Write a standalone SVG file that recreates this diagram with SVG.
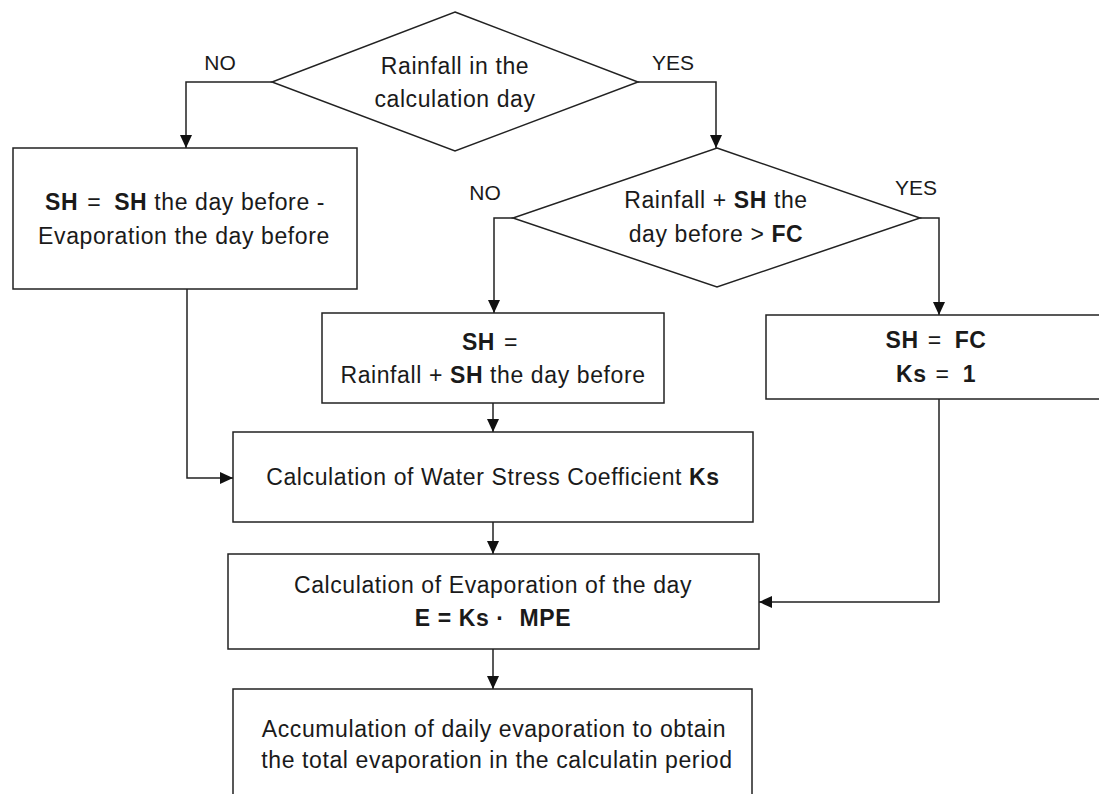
<svg xmlns="http://www.w3.org/2000/svg" width="1099" height="794" viewBox="0 0 1099 794">
<style>
.shape{fill:#fff;stroke:#222;stroke-width:1.5}
.conn{fill:none;stroke:#222;stroke-width:1.5}
text{font-family:"Liberation Sans",Arial,sans-serif;font-size:23px;letter-spacing:0.6px;fill:#1a1a1a;text-anchor:middle}
.lbl{font-size:21px;letter-spacing:0}
.b{font-weight:bold}
</style>
<defs>
<marker id="arr" markerUnits="userSpaceOnUse" markerWidth="13" markerHeight="12" refX="13" refY="6" orient="auto">
<path d="M0,0 L13,6 L0,12 z" fill="#111"/>
</marker>
</defs>
<rect width="1099" height="794" fill="#fff"/>
<g id="connectors">
<polyline class="conn" points="272,82 186,82 186,148" marker-end="url(#arr)"/>
<polyline class="conn" points="638,82 716,82 716,148" marker-end="url(#arr)"/>
<polyline class="conn" points="513,218 494,218 494,313" marker-end="url(#arr)"/>
<polyline class="conn" points="920,218 939,218 939,315" marker-end="url(#arr)"/>
<polyline class="conn" points="187,289 187,478 233,478" marker-end="url(#arr)"/>
<polyline class="conn" points="493,403 493,432" marker-end="url(#arr)"/>
<polyline class="conn" points="939,399 939,602 759,602" marker-end="url(#arr)"/>
<polyline class="conn" points="493,522 493,554" marker-end="url(#arr)"/>
<polyline class="conn" points="493,649 493,689" marker-end="url(#arr)"/>
<text class="lbl" x="220" y="70">NO</text>
<text class="lbl" x="673" y="70">YES</text>
<text class="lbl" x="485" y="200">NO</text>
<text class="lbl" x="916" y="195">YES</text>
</g>
<g id="d1">
<polygon class="shape" points="455,12 638,82 455,151 272,82"/>
<text x="455" y="74">Rainfall in the</text>
<text x="455" y="107">calculation day</text>
</g>
<g id="box1">
<rect class="shape" x="13" y="148" width="344" height="141"/>
<text x="185" y="210"><tspan class="b">SH</tspan> <tspan dx="2">=</tspan> <tspan class="b" dx="6">SH</tspan> the day before -</text>
<text x="184" y="244">Evaporation the day before</text>
</g>
<g id="d2">
<polygon class="shape" points="717,148 920,218 717,287 513,218"/>
<text x="716" y="208">Rainfall + <tspan class="b">SH</tspan> the</text>
<text x="716" y="242">day before &gt; <tspan class="b">FC</tspan></text>
</g>
<g id="box2">
<rect class="shape" x="322" y="313" width="342" height="90"/>
<text x="490" y="350"><tspan class="b">SH</tspan> <tspan dx="2">=</tspan></text>
<text x="493" y="383">Rainfall + <tspan class="b">SH</tspan> the day before</text>
</g>
<g id="box3">
<rect class="shape" x="766" y="315" width="346" height="84"/>
<text x="936" y="348"><tspan class="b">SH</tspan> <tspan dx="2">=</tspan> <tspan class="b" dx="6">FC</tspan></text>
<text x="936" y="382"><tspan class="b">Ks</tspan> <tspan dx="2">=</tspan> <tspan class="b" dx="6">1</tspan></text>
</g>
<g id="box4">
<rect class="shape" x="233" y="432" width="520" height="90"/>
<text x="493" y="485">Calculation of Water Stress Coefficient <tspan class="b">Ks</tspan></text>
</g>
<g id="box5">
<rect class="shape" x="228" y="554" width="531" height="95"/>
<text x="493" y="593">Calculation of Evaporation of the day</text>
<text x="493" y="626" class="b">E = Ks · <tspan dx="8">MPE</tspan></text>
</g>
<g id="box6">
<rect class="shape" x="233" y="689" width="519" height="120"/>
<text x="494" y="737">Accumulation of daily evaporation to obtain</text>
<text x="497" y="768">the total evaporation in the calculatin period</text>
</g>
</svg>
